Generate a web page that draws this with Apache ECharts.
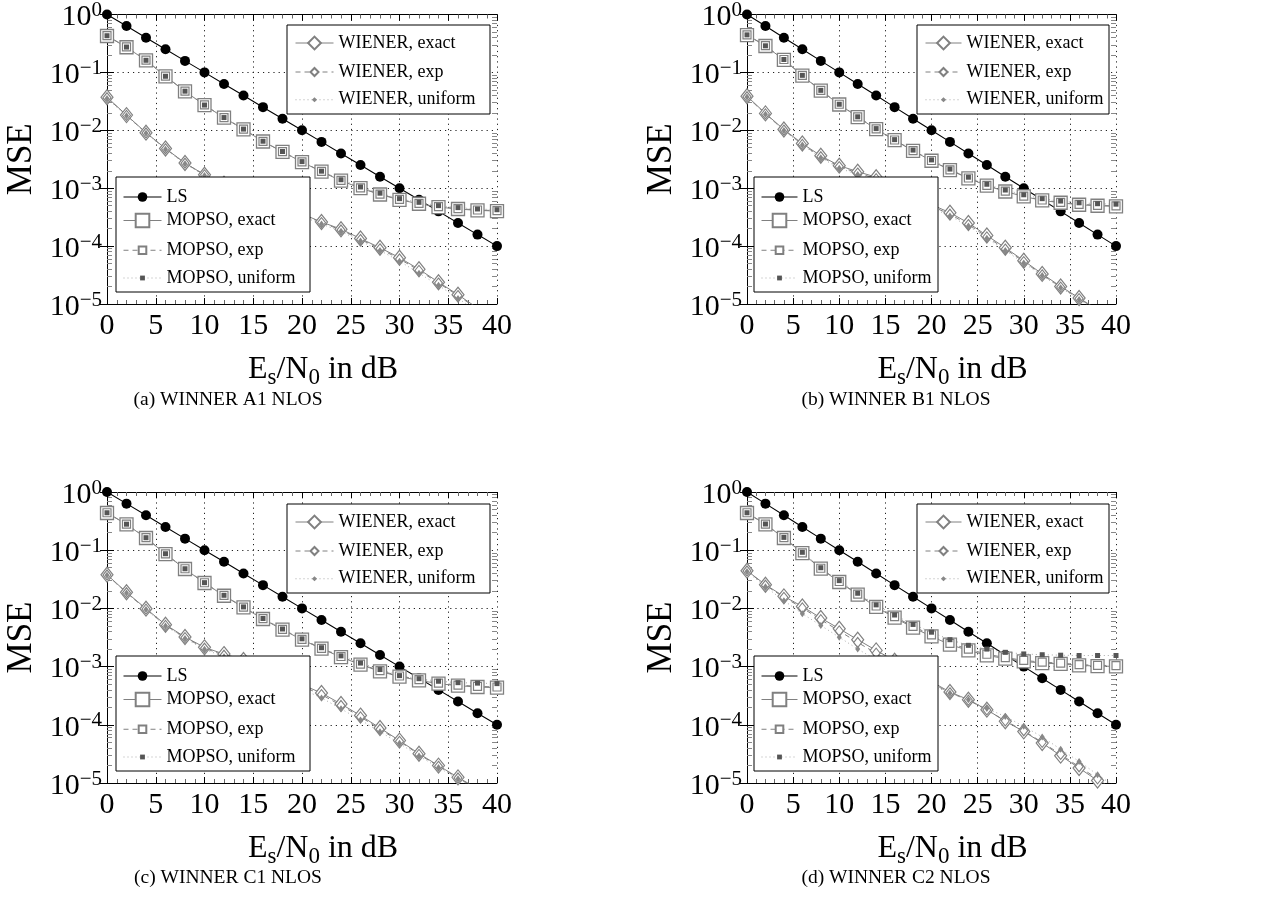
<!DOCTYPE html>
<html><head><meta charset="utf-8">
<script src="https://cdn.jsdelivr.net/npm/echarts@6/dist/echarts.min.js"></script>
<style>html,body{margin:0;padding:0;background:#fff}#c{width:1264px;height:923px}</style>
</head><body><div id="c"></div>
<script>
// ---------------- data ----------------
const X = [0,2,4,6,8,10,12,14,16,18,20,22,24,26,28,30,32,34,36,38,40];
const X_TICKS = [0,5,10,15,20,25,30,35,40];
const Y_DECADES = [1e-5,1e-4,1e-3,1e-2,1e-1,1];
const Y_MINOR = [2e-5,3e-5,4e-5,5e-5,6e-5,7e-5,8e-5,9e-5,2e-4,3e-4,4e-4,5e-4,6e-4,7e-4,8e-4,9e-4,2e-3,3e-3,4e-3,5e-3,6e-3,7e-3,8e-3,9e-3,2e-2,3e-2,4e-2,5e-2,6e-2,7e-2,8e-2,9e-2,0.2,0.3,0.4,0.5,0.6,0.7,0.8,0.9];
const SERIES_NAMES = ['LS','MOPSO, exact','MOPSO, exp','MOPSO, uniform','WIENER, exact','WIENER, exp','WIENER, uniform'];
const CAPTIONS = ['(a) WINNER A1 NLOS','(b) WINNER B1 NLOS','(c) WINNER C1 NLOS','(d) WINNER C2 NLOS'];

const LS = [1,0.631,0.398,0.251,0.158,0.1,0.0631,0.0398,0.0251,0.0158,0.01,0.00631,0.00398,0.00251,0.00158,0.001,0.000631,0.000398,0.000251,0.000158,0.0001];

// (a) A1
const A_MOPSO_EXACT = [0.425,0.272,0.161,0.0854,0.0472,0.0272,0.0165,0.0104,0.0064,0.00425,0.00283,0.00193,0.00135,0.001,0.000778,0.00063,0.000539,0.000472,0.000437,0.000414,0.000403];
const A_MOPSO_EXP   = [0.43,0.275,0.163,0.086,0.0475,0.0274,0.0166,0.0105,0.00645,0.00428,0.00285,0.00195,0.00137,0.00101,0.00079,0.00064,0.000548,0.00048,0.000445,0.00042,0.00041];
const A_MOPSO_UNI   = [0.43,0.274,0.162,0.0858,0.0474,0.0273,0.0166,0.0105,0.00648,0.0043,0.00288,0.00197,0.0014,0.00105,0.00082,0.00066,0.00057,0.0005,0.000462,0.000438,0.000425];
const A_WIENER_EXACT = [0.0373,0.0183,0.0091,0.00485,0.00272,0.00171,0.0012,0.00088,0.00066,0.00049,0.00036,0.000261,0.000196,0.000135,0.0000936,0.000063,0.0000398,0.0000238,0.0000145,0.0000085,0.000005];
const A_WIENER_EXP   = [0.0365,0.0181,0.009,0.0048,0.0027,0.0017,0.00119,0.00087,0.00065,0.00048,0.00035,0.000255,0.00019,0.00013,0.00009,0.00006,0.000038,0.000023,0.000014,0.0000082,0.0000048];
const A_WIENER_UNI   = [0.0355,0.0178,0.0089,0.0047,0.00265,0.00165,0.00115,0.00084,0.00062,0.00046,0.00033,0.00024,0.00018,0.000122,0.000084,0.000055,0.000034,0.000021,0.0000125,0.0000075,0.0000045];

// (b) B1
const B_MOPSO_EXACT = [0.442,0.286,0.165,0.0877,0.0485,0.0279,0.0169,0.0105,0.00674,0.00442,0.00298,0.00206,0.00148,0.00111,0.000877,0.00072,0.000615,0.000561,0.000518,0.000498,0.000485];
const B_MOPSO_EXP   = [0.446,0.289,0.167,0.0885,0.049,0.0282,0.0171,0.0106,0.0068,0.00447,0.00301,0.00208,0.0015,0.00112,0.00089,0.00073,0.000625,0.00057,0.000527,0.000507,0.000494];
const B_MOPSO_UNI   = [0.445,0.288,0.167,0.089,0.049,0.0282,0.0171,0.0107,0.0069,0.00455,0.00308,0.00214,0.00155,0.00117,0.00093,0.00077,0.00066,0.0006,0.00056,0.00054,0.00053];
const B_WIENER_EXACT = [0.0388,0.0196,0.0103,0.0059,0.00363,0.00245,0.00193,0.00155,0.0011,0.00078,0.00052,0.000378,0.000251,0.000152,0.0000936,0.000056,0.0000331,0.0000201,0.0000127,0.000008,0.000005];
const B_WIENER_EXP   = [0.038,0.0192,0.0101,0.0057,0.0035,0.00236,0.00183,0.00146,0.00103,0.00073,0.00049,0.000355,0.000236,0.000144,0.000089,0.000054,0.000032,0.0000196,0.0000124,0.0000078,0.0000049];
const B_WIENER_UNI   = [0.0375,0.019,0.0099,0.0056,0.00335,0.00222,0.00172,0.00137,0.00097,0.00069,0.00046,0.000332,0.000222,0.000136,0.000084,0.000051,0.000031,0.000019,0.000012,0.0000076,0.0000048];

// (c) C1
const C_MOPSO_EXACT = [0.436,0.278,0.162,0.0859,0.0475,0.0273,0.0165,0.0104,0.00657,0.00431,0.0029,0.00203,0.00146,0.00108,0.00083,0.000671,0.000581,0.000509,0.00047,0.000446,0.000434];
const C_MOPSO_EXP   = [0.44,0.281,0.164,0.0866,0.048,0.0276,0.0167,0.0105,0.00665,0.00437,0.00294,0.00206,0.00149,0.0011,0.00085,0.00069,0.000595,0.000522,0.000482,0.000458,0.000446];
const C_MOPSO_UNI   = [0.44,0.28,0.164,0.087,0.048,0.0277,0.0168,0.0106,0.0067,0.00443,0.003,0.00211,0.00153,0.00115,0.00089,0.0007,0.00062,0.00056,0.00053,0.00052,0.00051];
const C_WIENER_EXACT = [0.038,0.0189,0.0099,0.00525,0.00323,0.00214,0.00164,0.0013,0.00095,0.00069,0.00049,0.000352,0.000228,0.000144,0.000088,0.0000535,0.0000319,0.0000199,0.0000125,0.000008,0.000005];
const C_WIENER_EXP   = [0.0375,0.0186,0.0097,0.0051,0.00315,0.00207,0.00157,0.00124,0.0009,0.00065,0.00046,0.00033,0.000215,0.000137,0.000084,0.000052,0.000031,0.0000194,0.0000122,0.0000078,0.0000049];
const C_WIENER_UNI   = [0.037,0.0184,0.0096,0.005,0.00305,0.00198,0.00148,0.00115,0.00082,0.00058,0.00041,0.00029,0.000188,0.000121,0.000076,0.000048,0.000029,0.0000185,0.0000118,0.0000075,0.0000047];

// (d) C2
const D_MOPSO_EXACT = [0.436,0.278,0.162,0.0893,0.0481,0.0284,0.0172,0.0106,0.00693,0.00467,0.00331,0.00238,0.0019,0.00156,0.00137,0.00123,0.00115,0.00111,0.00105,0.00102,0.00101];
const D_MOPSO_EXP   = [0.44,0.28,0.164,0.09,0.049,0.029,0.0176,0.011,0.0072,0.0049,0.0035,0.0025,0.002,0.00163,0.00143,0.00128,0.00119,0.00115,0.00108,0.00105,0.00104];
const D_MOPSO_UNI   = [0.44,0.282,0.166,0.092,0.05,0.03,0.0182,0.0115,0.0077,0.0053,0.0039,0.0029,0.00232,0.002,0.00176,0.00165,0.0016,0.00157,0.00155,0.00155,0.00155];
const D_WIENER_EXACT = [0.0445,0.0255,0.0161,0.0108,0.00684,0.00448,0.0029,0.0019,0.00126,0.00083,0.00055,0.000366,0.00027,0.000182,0.000115,0.000077,0.0000487,0.0000295,0.0000181,0.000011,0.0000065];
const D_WIENER_EXP   = [0.044,0.025,0.0155,0.0102,0.0064,0.0041,0.0026,0.0017,0.00115,0.00078,0.00052,0.000355,0.000265,0.00018,0.000117,0.000079,0.00005,0.000031,0.000019,0.0000118,0.000007];
const D_WIENER_UNI   = [0.043,0.0235,0.0136,0.0081,0.0051,0.0032,0.002,0.00131,0.00092,0.00066,0.00048,0.00035,0.00027,0.00019,0.000139,0.000094,0.000062,0.000038,0.0000235,0.0000139,0.0000085];

const PANEL_DATA = [
  [LS, A_MOPSO_EXACT, A_MOPSO_EXP, A_MOPSO_UNI, A_WIENER_EXACT, A_WIENER_EXP, A_WIENER_UNI],
  [LS, B_MOPSO_EXACT, B_MOPSO_EXP, B_MOPSO_UNI, B_WIENER_EXACT, B_WIENER_EXP, B_WIENER_UNI],
  [LS, C_MOPSO_EXACT, C_MOPSO_EXP, C_MOPSO_UNI, C_WIENER_EXACT, C_WIENER_EXP, C_WIENER_UNI],
  [LS, D_MOPSO_EXACT, D_MOPSO_EXP, D_MOPSO_UNI, D_WIENER_EXACT, D_WIENER_EXP, D_WIENER_UNI]
];

// ---------------- layout & style ----------------
const FONT = '"Liberation Serif", "DejaVu Serif", serif';
const PANELS = [
  {left:107, top:13,  width:390, height:291, capX:228, capY:400, up:{l:287, w:203}, lo:{l:116, w:194}, iw:38},
  {left:747, top:13,  width:369, height:291, capX:896, capY:400, up:{l:917, w:192}, lo:{l:754, w:184}, iw:36},
  {left:107, top:492, width:390, height:291, capX:228, capY:878, up:{l:287, w:203}, lo:{l:116, w:194}, iw:38},
  {left:747, top:492, width:369, height:291, capX:896, capY:878, up:{l:917, w:192}, lo:{l:754, w:184}, iw:36}
];
const GRAY = '#808080';
const STYLES = [
  {symbol:'circle', size:10, line:{color:'#000', width:1.1, type:'solid'}, item:{color:'#000', borderColor:'#000', borderWidth:0}, lh:12},
  {symbol:'rect', size:13, line:{color:GRAY, width:1, type:'solid'}, item:{color:'#fff', borderColor:GRAY, borderWidth:1.3}, lh:17},
  {symbol:'rect', size:8, line:{color:GRAY, width:1, type:[5,4]}, item:{color:'#fff', borderColor:GRAY, borderWidth:1.2}, lh:9.5},
  {symbol:'rect', size:5, line:{color:'#aaa', width:1, type:[1,3]}, item:{color:'#555', borderColor:'#555', borderWidth:0}, lh:6},
  {symbol:'diamond', size:[12,15], line:{color:GRAY, width:1, type:'solid'}, item:{color:'#fff', borderColor:GRAY, borderWidth:1.2}, lh:16},
  {symbol:'diamond', size:[8,10], line:{color:GRAY, width:1, type:[5,4]}, item:{color:'#fff', borderColor:GRAY, borderWidth:1.1}, lh:10},
  {symbol:'diamond', size:[5,7], line:{color:'#aaa', width:1, type:[1,3]}, item:{color:'#888', borderColor:'#888', borderWidth:0}, lh:6.5}
];

function yLabel(v){
  const e = Math.round(Math.log10(v));
  return '{b|10}{s|' + (e === 0 ? '0' : '\u2212' + (-e)) + '}';
}

const grid = [], xAxis = [], yAxis = [], series = [], legend = [], graphic = [];
PANELS.forEach((p, g) => {
  grid.push({left:p.left, top:p.top, width:p.width, height:p.height});
  const xBase = {type:'value', gridIndex:g, min:0, max:40, interval:5,
    axisLine:{show:true, onZero:false, lineStyle:{color:'#000', width:1}},
    axisTick:{show:true, inside:true, length:6, lineStyle:{color:'#000'}},
    minorTick:{show:true, splitNumber:5, length:4, lineStyle:{color:'#666'}},
    splitLine:{show:false}};
  xAxis.push(Object.assign({}, xBase, {position:'bottom',
    axisLabel:{show:true, margin:7, fontFamily:FONT, fontSize:30, color:'#000'},
    splitLine:{show:true, lineStyle:{color:'#222', width:1, type:[1.2,4]}},
    name:'{b|E}{sub|s}{b|/N}{sub|0}{b| in dB}', nameLocation:'middle', nameGap:47,
    nameTextStyle:{padding:[0,0,0,42], rich:{b:{fontFamily:FONT, fontSize:32, color:'#000'}, sub:{fontFamily:FONT, fontSize:23, color:'#000', padding:[15,0,0,0]}}}}));
  xAxis.push(Object.assign({}, xBase, {position:'top', axisLabel:{show:false}}));
  const yBase = {type:'log', gridIndex:g, logBase:10, min:1e-5, max:1, interval:1,
    axisLine:{show:true, lineStyle:{color:'#000', width:1}},
    axisTick:{show:true, inside:true, length:7, lineStyle:{color:'#000'}},
    splitLine:{show:false}, axisLabel:{show:false}};
  yAxis.push(Object.assign({}, yBase, {position:'left',
    axisLabel:{show:true, margin:5, formatter:yLabel,
      rich:{b:{fontFamily:FONT, fontSize:30, color:'#000', padding:[6,0,0,0]}, s:{fontFamily:FONT, fontSize:21, color:'#000', padding:[0,0,8,0]}}},
    splitLine:{show:true, lineStyle:{color:'#222', width:1, type:[1.2,4]}},
    name:'MSE', nameLocation:'middle', nameGap:68,
    nameTextStyle:{fontFamily:FONT, fontSize:35, color:'#000'}}));
  yAxis.push(Object.assign({}, yBase, {position:'right'}));
  const yMinor = {type:'log', gridIndex:g, logBase:10, min:1e-5, max:1, interval:1,
    axisLine:{show:false}, axisLabel:{show:false}, splitLine:{show:false},
    axisTick:{show:true, inside:true, length:5, customValues:Y_MINOR, lineStyle:{color:'#888'}}};
  yAxis.push(Object.assign({}, yMinor, {position:'left'}));
  yAxis.push(Object.assign({}, yMinor, {position:'right'}));

  PANEL_DATA[g].forEach((vals, k) => {
    const st = STYLES[k];
    series.push({
      type:'line', name:SERIES_NAMES[k], xAxisIndex:2*g, yAxisIndex:4*g,
      data: X.map((x, i) => [x, vals[i]]),
      symbol:st.symbol, symbolSize:st.size, showSymbol:true,
      lineStyle:st.line, itemStyle:st.item, z:2,
      animation:false, silent:true, emphasis:{disabled:true}
    });
  });

  // legend frames
  const upTop = p.top + 12, loTop = p.top + 164;
  graphic.push({type:'rect', z:3, shape:{x:p.up.l, y:upTop, width:p.up.w, height:89},
    style:{fill:'#fff', stroke:'#000', lineWidth:1}});
  graphic.push({type:'rect', z:3, shape:{x:p.lo.l, y:loTop, width:p.lo.w, height:115},
    style:{fill:'#fff', stroke:'#000', lineWidth:1}});
  // caption
  graphic.push({type:'text', z:3, x:p.capX, y:p.capY,
    style:{text:CAPTIONS[g], font:'19.5px ' + FONT, fill:'#000', textAlign:'center', textVerticalAlign:'middle'}});

  const upNames = [4,5,6], loNames = [0,1,2,3];
  const tStyle = {fontFamily:FONT, fontSize:18, color:'#000'};
  upNames.forEach((k, j) => {
    const cy = upTop + 17 + 26 * j;
    legend.push({data:[SERIES_NAMES[k]], left:p.up.l + 8, top:cy - STYLES[k].lh/2, itemWidth:p.iw, itemHeight:STYLES[k].lh,
      padding:0, selectedMode:false, z:5, lineStyle:{width:1}, textStyle:tStyle});
  });
  loNames.forEach((k, j) => {
    const cy = loTop + 17 + 26 * j;
    legend.push({data:[SERIES_NAMES[k]], left:p.lo.l + 7, top:cy - STYLES[k].lh/2, itemWidth:p.iw, itemHeight:STYLES[k].lh,
      padding:0, selectedMode:false, z:5, lineStyle:{width:1}, textStyle:tStyle});
  });
});

const chart = echarts.init(document.getElementById('c'), null, {renderer:'canvas'});
chart.setOption({animation:false, backgroundColor:'#fff', grid, xAxis, yAxis, series, legend, graphic});
</script></body></html>
